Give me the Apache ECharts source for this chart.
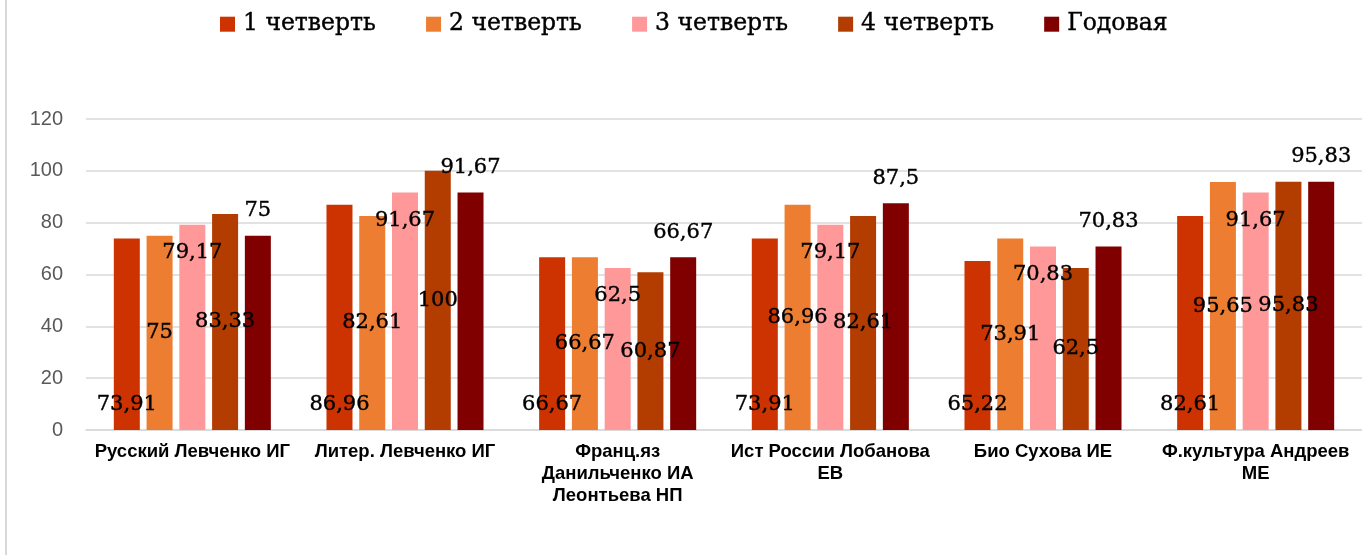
<!DOCTYPE html>
<html>
<head>
<meta charset="utf-8">
<script src="https://cdn.jsdelivr.net/npm/echarts@6/dist/echarts.min.js"></script>
<style>
  html, body { margin: 0; padding: 0; background: #fff; }
  #chart { width: 1362px; height: 555px; }
</style>
</head>
<body>
<div id="chart"></div>
<script>
// Subjects / teachers
const categories = [
  'Русский Левченко ИГ',
  'Литер. Левченко ИГ',
  'Франц.яз\nДанильченко ИА\nЛеонтьева НП',
  'Ист России Лобанова\nЕВ',
  'Био Сухова ИЕ',
  'Ф.культура Андреев\nМЕ'
];

// Results per quarter and for the year
const q1 = [73.91, 86.96, 66.67, 73.91, 65.22, 82.61];
const q2 = [75, 82.61, 66.67, 86.96, 73.91, 95.65];
const q3 = [79.17, 91.67, 62.5, 79.17, 70.83, 91.67];
const q4 = [83.33, 100, 60.87, 82.61, 62.5, 95.83];
const year = [75, 91.67, 66.67, 87.5, 70.83, 95.83];

const seriesNames = ['1 четверть', '2 четверть', '3 четверть', '4 четверть', 'Годовая'];
const seriesData = [q1, q2, q3, q4, year];
const colors = ['#CC3300', '#ED7D31', '#FF9999', '#B33C00', '#800000'];

// Where each series puts its value label
const labelPlacement = [
  { position: 'insideBottom', distance: 14 },
  { position: 'inside' },
  { position: 'insideTop', distance: 17 },
  { position: 'inside' },
  { position: 'top', distance: 14 }
];

const chart = echarts.init(document.getElementById('chart'));

const series = seriesNames.map((name, i) => ({
  name: name,
  type: 'bar',
  data: seriesData[i],
  barWidth: 26,
  barGap: '26%',
  itemStyle: { color: colors[i] },
  label: Object.assign({
    show: true,
    color: '#000',
    fontFamily: 'DejaVu Serif',
    fontSize: 21,
    lineHeight: 22,
    textBorderColor: '#000',
    textBorderWidth: 0.4,
    formatter: p => String(p.value).replace('.', ',')
  }, labelPlacement[i])
}));

chart.setOption({
  animation: false,
  color: colors,
  graphic: [{
    type: 'line',
    shape: { x1: 6, y1: 0, x2: 6, y2: 555 },
    style: { stroke: '#D9D9D9', lineWidth: 2 }
  }],
  legend: {
    left: 220,
    top: 12,
    padding: 0,
    itemWidth: 15,
    itemHeight: 15,
    itemGap: 50,
    icon: 'rect',
    textStyle: {
      fontFamily: 'DejaVu Serif',
      fontSize: 23.5,
      color: '#000',
      textBorderColor: '#000',
      textBorderWidth: 0.4,
      padding: [0, 0, 0, 3]
    },
    data: seriesNames
  },
  grid: {
    left: 86,
    right: 0,
    top: 119,
    bottom: 125,
    containLabel: false
  },
  xAxis: {
    type: 'category',
    data: categories,
    axisTick: { show: false },
    axisLine: { lineStyle: { color: '#D9D9D9', width: 1.5 } },
    axisLabel: {
      interval: 0,
      margin: 11,
      color: '#000',
      fontFamily: 'Liberation Sans',
      fontWeight: 'bold',
      fontSize: 18.5,
      lineHeight: 22
    }
  },
  yAxis: {
    type: 'value',
    min: 0,
    max: 120,
    interval: 20,
    axisLine: { show: false },
    axisTick: { show: false },
    splitLine: { lineStyle: { color: '#D9D9D9', width: 1.5 } },
    axisLabel: {
      margin: 23,
      color: '#595959',
      fontFamily: 'Liberation Sans',
      fontSize: 20
    }
  },
  series: series
});
</script>
</body>
</html>
